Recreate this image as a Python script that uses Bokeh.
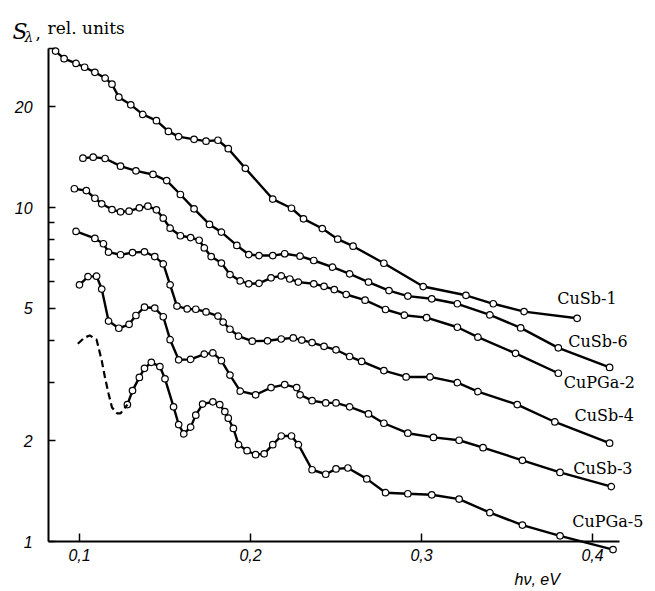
from bokeh.plotting import figure
from bokeh.models import FixedTicker, Label, Range1d
from bokeh.core.properties import value
from bokeh.embed import file_html
from bokeh.resources import INLINE

# ---------------- data ----------------
x_ticks = [0.1, 0.2, 0.3, 0.4]
x_tick_labels = ["0,1", "0,2", "0,3", "0,4"]
y_ticks = [1, 2, 5, 10, 20]
y_tick_labels = ["1", "2", "5", "10", "20"]
y_minor_ticks = [3, 4, 6, 7, 8, 9, 30]

series_names = ["CuSb-1", "CuSb-6", "CuPGa-2", "CuSb-4", "CuSb-3", "CuPGa-5"]

cusb1_x = [0.086, 0.091, 0.098, 0.103, 0.109, 0.115, 0.119, 0.123, 0.130, 0.137,
           0.145, 0.152, 0.158, 0.167, 0.174, 0.181, 0.187, 0.197, 0.213, 0.224,
           0.231, 0.242, 0.251, 0.260, 0.278, 0.301, 0.326, 0.342, 0.360, 0.391]
cusb1_y = [29.4, 27.9, 27.0, 26.3, 25.4, 24.4, 23.4, 21.4, 20.3, 19.0,
           18.2, 16.9, 16.3, 16.0, 15.8, 15.9, 15.0, 13.1, 10.6, 9.95,
           9.25, 8.65, 8.04, 7.66, 6.81, 5.80, 5.46, 5.15, 4.88, 4.66]

cusb6_x = [0.102, 0.108, 0.115, 0.124, 0.133, 0.143, 0.151, 0.159, 0.167, 0.176,
           0.183, 0.192, 0.199, 0.205, 0.213, 0.220, 0.229, 0.237, 0.248, 0.258,
           0.269, 0.281, 0.292, 0.306, 0.321, 0.340, 0.358, 0.380, 0.410]
cusb6_y = [14.05, 14.15, 14.02, 13.3, 12.88, 12.56, 12.04, 10.94, 9.91, 8.90,
           8.44, 7.70, 7.23, 7.18, 7.18, 7.27, 7.15, 6.94, 6.63, 6.33,
           5.98, 5.64, 5.43, 5.33, 5.15, 4.77, 4.36, 3.80, 3.32]

cupga2_x = [0.097, 0.104, 0.109, 0.113, 0.119, 0.124, 0.129, 0.135, 0.140, 0.145,
            0.149, 0.153, 0.159, 0.165, 0.170, 0.173, 0.177, 0.183, 0.188, 0.194,
            0.199, 0.205, 0.212, 0.218, 0.223, 0.228, 0.237, 0.243, 0.249, 0.256,
            0.267, 0.279, 0.290, 0.303, 0.321, 0.333, 0.355, 0.380]
cupga2_y = [11.38, 11.24, 10.66, 10.26, 9.86, 9.71, 9.75, 9.98, 10.09, 9.84,
            9.29, 8.67, 8.23, 8.13, 7.98, 7.57, 7.13, 6.82, 6.30, 6.03,
            5.91, 5.93, 6.16, 6.24, 6.11, 5.98, 5.91, 5.81, 5.68, 5.49,
            5.28, 4.95, 4.76, 4.68, 4.38, 4.09, 3.66, 3.19]

cusb4_x = [0.098, 0.109, 0.114, 0.117, 0.124, 0.131, 0.138, 0.144, 0.149, 0.153,
           0.157, 0.163, 0.168, 0.174, 0.181, 0.184, 0.188, 0.193, 0.201, 0.210,
           0.218, 0.225, 0.230, 0.236, 0.243, 0.250, 0.258, 0.265, 0.278, 0.291,
           0.305, 0.321, 0.333, 0.356, 0.378, 0.410]
cusb4_y = [8.48, 8.08, 7.79, 7.35, 7.22, 7.33, 7.37, 7.13, 6.78, 5.87,
           5.07, 4.97, 4.96, 4.87, 4.73, 4.54, 4.32, 4.12, 3.98, 3.99,
           4.04, 4.07, 4.01, 3.94, 3.84, 3.75, 3.58, 3.46, 3.25, 3.11,
           3.11, 2.99, 2.81, 2.57, 2.28, 1.97]

cusb3_x = [0.100, 0.105, 0.110, 0.113, 0.117, 0.123, 0.129, 0.133, 0.138, 0.144,
           0.149, 0.153, 0.158, 0.165, 0.173, 0.178, 0.183, 0.188, 0.194, 0.203,
           0.212, 0.220, 0.227, 0.229, 0.236, 0.244, 0.250, 0.258, 0.269, 0.278,
           0.292, 0.307, 0.322, 0.336, 0.359, 0.381, 0.411]
cusb3_y = [5.87, 6.21, 6.23, 5.70, 4.57, 4.35, 4.47, 4.75, 5.03, 5.00,
           4.71, 4.02, 3.50, 3.51, 3.64, 3.67, 3.48, 3.15, 2.82, 2.75,
           2.89, 2.95, 2.89, 2.75, 2.64, 2.60, 2.60, 2.53, 2.41, 2.26,
           2.11, 2.05, 2.01, 1.91, 1.75, 1.61, 1.46]

cupga5_x = [0.128, 0.131, 0.135, 0.138, 0.142, 0.147, 0.150, 0.155, 0.158, 0.161,
            0.165, 0.168, 0.172, 0.178, 0.182, 0.185, 0.187, 0.190, 0.193, 0.198,
            0.203, 0.208, 0.213, 0.218, 0.224, 0.228, 0.236, 0.244, 0.250, 0.257,
            0.268, 0.279, 0.292, 0.306, 0.322, 0.340, 0.359, 0.381, 0.412]
cupga5_y = [2.57, 2.83, 3.10, 3.30, 3.44, 3.34, 3.07, 2.53, 2.24, 2.10,
            2.20, 2.39, 2.58, 2.62, 2.57, 2.45, 2.34, 2.18, 1.95, 1.87,
            1.82, 1.83, 1.95, 2.07, 2.07, 1.95, 1.64, 1.59, 1.65, 1.66,
            1.54, 1.40, 1.39, 1.38, 1.34, 1.22, 1.12, 1.04, 0.946]

# dashed (unmeasured) start of CuPGa-5
cupga5_dash_x = [0.099, 0.103, 0.106, 0.110, 0.113, 0.115, 0.117, 0.119, 0.122, 0.124, 0.128]
cupga5_dash_y = [3.91, 4.08, 4.14, 4.02, 3.48, 3.08, 2.77, 2.52, 2.42, 2.42, 2.57]

# curve-label anchor points (data coordinates)
label_pos_x = [0.3794, 0.3858, 0.3832, 0.3895, 0.3887, 0.3881]
label_pos_y = [5.34, 3.97, 2.99, 2.38, 1.65, 1.148]

# axis extents
x_axis_start, x_axis_end = 0.0819, 0.416
y_axis_start, y_axis_end = 1, 30

# ---------------- figure ----------------
p = figure(width=655, height=591, y_axis_type="log",
           x_range=Range1d(0.0538, 0.43684), y_range=Range1d(0.7085, 41.67),
           output_backend="svg", toolbar_location=None, min_border=0)
p.outline_line_color = None
p.grid.visible = False

xa = p.xaxis[0]
xa.ticker = FixedTicker(ticks=x_ticks)
xa.major_label_overrides = {t: l for t, l in zip(x_ticks, x_tick_labels)}
xa.fixed_location = y_axis_start
xa.bounds = (x_axis_start, x_axis_end)
xa.major_tick_in = 8
xa.major_tick_out = 0
xa.minor_tick_in = 0
xa.minor_tick_out = 0
xa.axis_line_width = 2
xa.axis_line_color = "black"
xa.major_tick_line_width = 1.5
xa.major_label_text_font = "Liberation Sans"
xa.major_label_text_font_style = "italic"
xa.major_label_text_font_size = "16px"
xa.major_label_text_color = "black"
xa.major_label_standoff = 7

ya = p.yaxis[0]
ya.ticker = FixedTicker(ticks=y_ticks, minor_ticks=y_minor_ticks)
ya.major_label_overrides = {t: l for t, l in zip(y_ticks, y_tick_labels)}
ya.fixed_location = x_axis_start
ya.bounds = (y_axis_start, y_axis_end)
ya.major_tick_in = 7
ya.major_tick_out = 0
ya.minor_tick_in = 6
ya.minor_tick_out = 0
ya.axis_line_width = 2
ya.axis_line_color = "black"
ya.major_tick_line_width = 1.5
ya.minor_tick_line_width = 1.5
ya.minor_tick_line_color = "black"
ya.major_label_text_font = "Liberation Sans"
ya.major_label_text_font_style = "italic"
ya.major_label_text_font_size = "16px"
ya.major_label_text_color = "black"
ya.major_label_standoff = 16

all_series = [(cusb1_x, cusb1_y), (cusb6_x, cusb6_y), (cupga2_x, cupga2_y),
              (cusb4_x, cusb4_y), (cusb3_x, cusb3_y), (cupga5_x, cupga5_y)]
for xs, ys in all_series:
    p.line(xs, ys, line_color="black", line_width=2.4)
for xs, ys in all_series:
    p.scatter(xs, ys, marker="circle", size=6.5, fill_color="white",
              line_color="black", line_width=1.2)

p.line(cupga5_dash_x, cupga5_dash_y, line_color="black", line_width=2.2, line_dash="7 4")

p.text(x=label_pos_x, y=label_pos_y, text=series_names,
       text_font=value("DejaVu Serif"), text_font_size="16px",
       text_baseline="middle", text_align="left", text_color="black")

# axis titles
p.add_layout(Label(x=0.0608, y=33.6, text="S", text_font="DejaVu Serif",
                   text_font_style="italic", text_font_size="22px", text_color="black",
                   text_baseline="alphabetic"))
p.add_layout(Label(x=0.0678, y=32.3, text="λ", text_font="DejaVu Serif",
                   text_font_style="italic", text_font_size="14px", text_color="black",
                   text_baseline="alphabetic"))
p.add_layout(Label(x=0.0743, y=33.2, text=",", text_font="DejaVu Serif",
                   text_font_size="17px", text_color="black", text_baseline="alphabetic"))
p.add_layout(Label(x=0.0813, y=34.4, text="rel. units", text_font="DejaVu Serif",
                   text_font_size="17px", text_color="black", text_baseline="alphabetic"))
p.add_layout(Label(x=0.3544, y=0.767, text="hν, eV", text_font="Liberation Sans",
                   text_font_style="italic", text_font_size="16px", text_color="black",
                   text_baseline="alphabetic"))

open("out.html", "w").write(file_html(p, INLINE))
